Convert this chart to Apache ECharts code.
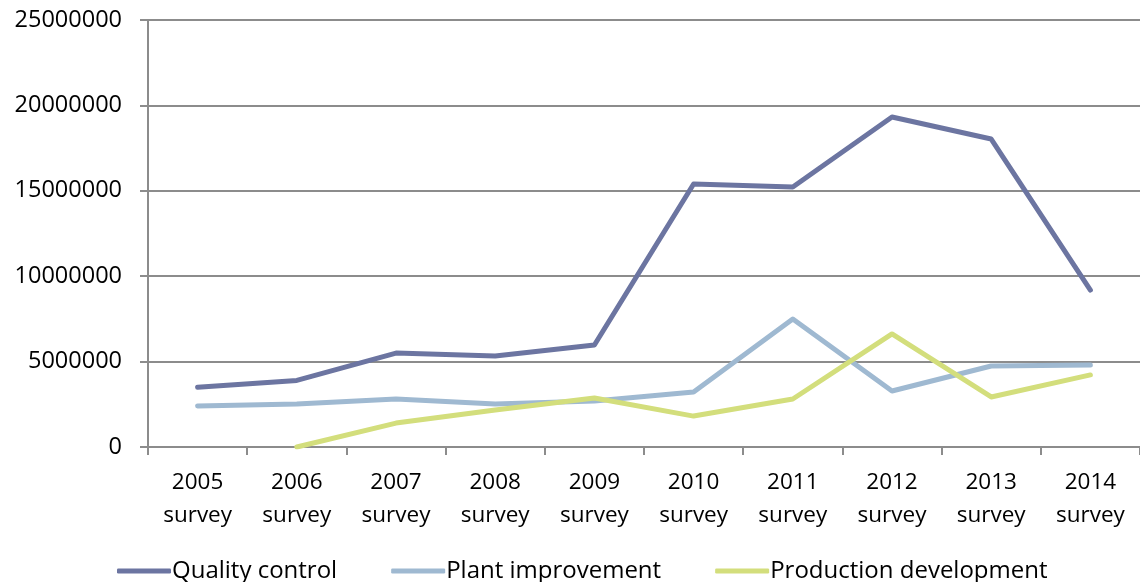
<!DOCTYPE html>
<html>
<head>
<meta charset="utf-8">
<script src="https://cdn.jsdelivr.net/npm/echarts@6/dist/echarts.min.js"></script>
<style>
  html, body { margin: 0; padding: 0; background: #fff; }
  #chart { width: 1140px; height: 582px; }
</style>
</head>
<body>
<div id="chart"></div>
<script>
// Survey years along the category axis
const categories = ['2005\nsurvey', '2006\nsurvey', '2007\nsurvey', '2008\nsurvey', '2009\nsurvey',
                    '2010\nsurvey', '2011\nsurvey', '2012\nsurvey', '2013\nsurvey', '2014\nsurvey'];

// Spending per activity for each survey
const qualityControl = [3500000, 3900000, 5500000, 5330000, 5970000, 15400000, 15220000, 19320000, 18030000, 9190000];
const plantImprovement = [2400000, 2520000, 2810000, 2520000, 2690000, 3220000, 7490000, 3280000, 4740000, 4800000];
const productionDevelopment = [null, 0, 1400000, 2170000, 2870000, 1810000, 2810000, 6620000, 2930000, 4220000];

const seriesNames = ['Quality control', 'Plant improvement', 'Production development'];
const seriesColors = ['#6c75a1', '#9fb9d1', '#d3de7c'];

const FONT = 'Open Sans';

const chart = echarts.init(document.getElementById('chart'));

function lineSeries(i, data) {
  return {
    name: seriesNames[i],
    type: 'line',
    data: data,
    symbol: 'none',
    smooth: false,
    connectNulls: false,
    lineStyle: { width: 5, color: seriesColors[i], cap: 'round', join: 'round' },
    itemStyle: { color: seriesColors[i] },
    emphasis: { disabled: true }
  };
}

chart.setOption({
  animation: false,
  backgroundColor: '#ffffff',
  grid: { left: 148, right: 0, top: 20, bottom: 135, containLabel: false },
  legend: {
    bottom: -6,
    left: 112,
    itemWidth: 54,
    itemHeight: 5,
    itemGap: 54,
    icon: 'roundRect',
    textStyle: { fontFamily: FONT, fontSize: 24, color: '#000', padding: [0, 0, 0, -4] },
    data: seriesNames
  },
  xAxis: {
    type: 'category',
    data: categories,
    boundaryGap: true,
    axisLine: { lineStyle: { color: '#8c8c8c', width: 2 } },
    axisTick: { show: true, length: 8, lineStyle: { color: '#8c8c8c', width: 2 } },
    axisLabel: {
      fontFamily: FONT, fontSize: 22.5, color: '#000',
      lineHeight: 33, margin: 19, interval: 0
    }
  },
  yAxis: {
    type: 'value',
    min: 0,
    max: 25000000,
    interval: 5000000,
    axisLine: { show: true, lineStyle: { color: '#8c8c8c', width: 2 } },
    axisTick: { show: true, length: 8, lineStyle: { color: '#8c8c8c', width: 2 } },
    splitLine: { lineStyle: { color: '#8c8c8c', width: 2 } },
    axisLabel: {
      fontFamily: FONT, fontSize: 23.5, color: '#000', margin: 26,
      formatter: v => String(v)
    }
  },
  series: [
    lineSeries(0, qualityControl),
    lineSeries(1, plantImprovement),
    lineSeries(2, productionDevelopment)
  ]
});
</script>
</body>
</html>
